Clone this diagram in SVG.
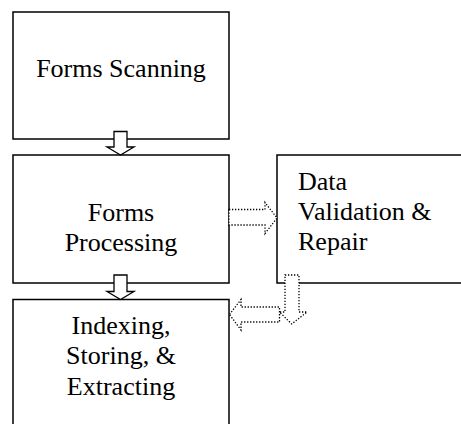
<svg xmlns="http://www.w3.org/2000/svg" width="461" height="424" viewBox="0 0 461 424">
<style>
.box{fill:#fff;stroke:#000;stroke-width:1.5}
.t{font-family:'Liberation Serif','DejaVu Serif','Noto Serif','Times New Roman',Times,serif;font-size:26px;fill:#000}
.c{text-anchor:middle}
.solid{fill:#fff;stroke:#000;stroke-width:1.3;stroke-linejoin:miter}
.dot{fill:#fff;stroke:#000;stroke-width:1.3;stroke-dasharray:1.3 1.7}
</style>
<rect width="461" height="424" fill="#fff"/>
<g id="scan">
<rect class="box" x="13" y="12" width="216" height="127"/>
<text class="t c" x="121" y="77">Forms Scanning</text>
</g>
<g id="process">
<rect class="box" x="13" y="155" width="216" height="128"/>
<text class="t c" x="121" y="221">Forms</text>
<text class="t c" x="121" y="250.5">Processing</text>
</g>
<g id="index">
<rect class="box" x="13" y="299.5" width="216" height="140"/>
<text class="t c" x="121" y="333.5">Indexing,</text>
<text class="t c" x="121" y="364">Storing, &amp;</text>
<text class="t c" x="121" y="394.5">Extracting</text>
</g>
<g id="validate">
<rect class="box" x="277" y="155" width="220" height="128"/>
<text class="t" x="298" y="190">Data</text>
<text class="t" x="298" y="220">Validation &amp;</text>
<text class="t" x="298" y="250">Repair</text>
</g>
<g id="connectors">
<polygon class="solid" points="114,131.5 127,131.5 127,147 134,147 120.5,155 107,147 114,147"/>
<polygon class="solid" points="114,275 127,275 127,291.5 134,291.5 120.5,299.5 107,291.5 114,291.5"/>
<polygon class="dot" points="229,209.5 265,209.5 265,202.5 277,218 265,233.5 265,225 229,225"/>
<polygon class="dot" points="229.5,314.5 241,299.5 241,307 279.5,307 279.5,322 241,322 241,330"/>
<polygon class="dot" points="285,275 299,275 299,312 307,312 291.7,324 279.5,312 285,312"/>
</g>
</svg>
